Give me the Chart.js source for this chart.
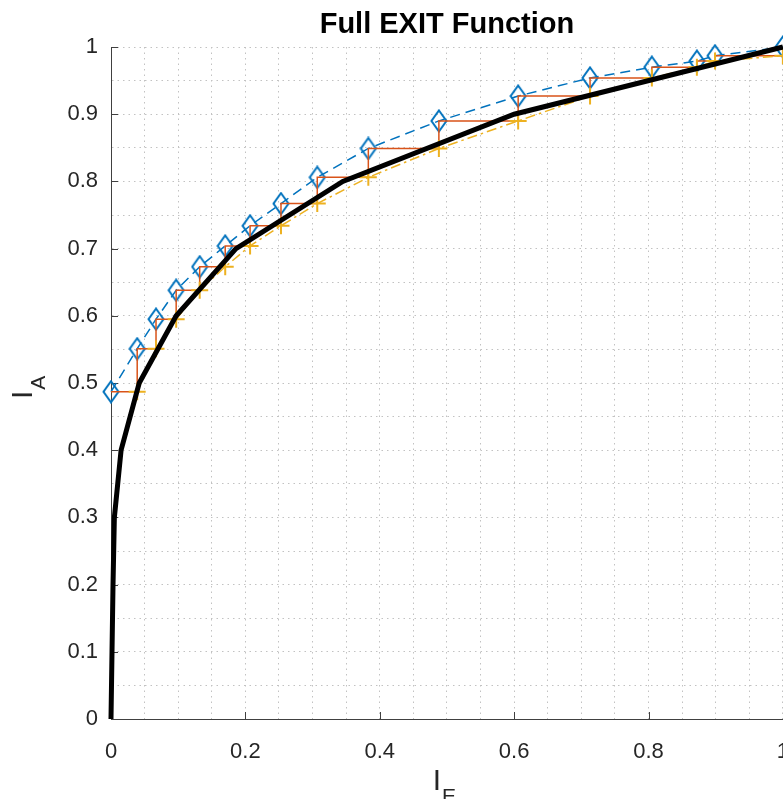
<!DOCTYPE html>
<html>
<head>
<meta charset="utf-8">
<script src="https://cdn.jsdelivr.net/npm/chart.js@4"></script>
<style>
  html, body { margin: 0; padding: 0; overflow: hidden; background: #fff; }
  canvas { display: block; }
</style>
</head>
<body>
<canvas id="exit" width="809" height="799"></canvas>
<script>
// Decoding trajectory: mutual information after each half-iteration
const ieTrajectory = [0, 0.039, 0.067, 0.097, 0.132, 0.170, 0.207, 0.253, 0.307, 0.383, 0.488, 0.606, 0.713, 0.805, 0.872, 0.899, 1.0];
const iaTrajectory = [0.487, 0.551, 0.595, 0.638, 0.673, 0.704, 0.734, 0.767, 0.806, 0.849, 0.890, 0.927, 0.954, 0.970, 0.979, 0.987, 1.0];

// Extrinsic output of the second decoder
const ieOuter = [0.039, 0.067, 0.097, 0.132, 0.170, 0.207, 0.253, 0.307, 0.383, 0.488, 0.606, 0.713, 0.805, 0.872, 0.899, 1.0];
const iaOuter = [0.487, 0.551, 0.595, 0.638, 0.673, 0.704, 0.734, 0.767, 0.806, 0.849, 0.890, 0.927, 0.954, 0.970, 0.979, 0.987];

// Full EXIT function
const ieExit = [0, 0.0015, 0.003, 0.005, 0.015, 0.042, 0.097, 0.186, 0.345, 0.600, 1.0];
const iaExit = [0, 0.1, 0.2, 0.3, 0.4, 0.5, 0.6, 0.7, 0.8, 0.9, 1.0];

const xTickLabels = ['0', '0.2', '0.4', '0.6', '0.8', '1'];
const yTickLabels = ['0', '0.1', '0.2', '0.3', '0.4', '0.5', '0.6', '0.7', '0.8', '0.9', '1'];
const titleText = 'Full EXIT Function';

const BLUE = '#0072BD', ORANGE = '#D95319', YELLOW = '#EDB120';
const TEXT = '#262626', AXIS = '#404040', GRID = '#c2c2c2';
const FONT = '"Liberation Sans", Arial, Helvetica, sans-serif';

const pts = (xs, ys) => xs.map((x, i) => ({ x, y: ys[i] }));

// staircase: trajectory point -> outer point -> next trajectory point
const stair = [];
ieTrajectory.forEach((x, i) => {
  stair.push({ x, y: iaTrajectory[i] });
  if (i < ieOuter.length) stair.push({ x: ieOuter[i], y: iaOuter[i] });
});

// tall diamond marker
function diamond() {
  const c = document.createElement('canvas');
  c.width = 18; c.height = 24;
  const g = c.getContext('2d');
  g.strokeStyle = BLUE; g.lineWidth = 2;
  g.beginPath();
  g.moveTo(9, 1.5); g.lineTo(16.5, 12); g.lineTo(9, 22.5); g.lineTo(1.5, 12); g.closePath();
  g.stroke();
  return c;
}

function labelFor(list, v) {
  const hit = list.find(s => Math.abs(Number(s) - v) < 1e-6);
  return hit === undefined ? '' : hit;
}

// inward tick marks, title over the plot area, subscripted axis titles
const axisDecor = {
  id: 'axisDecor',
  beforeDatasetsDraw(chart) {
    const { ctx, chartArea: a, scales } = chart;
    ctx.save();
    ctx.strokeStyle = AXIS; ctx.lineWidth = 1;
    ctx.beginPath();
    xTickLabels.forEach(s => {
      const px = Math.round(scales.x.getPixelForValue(Number(s))) + 0.5;
      ctx.moveTo(px, a.bottom); ctx.lineTo(px, a.bottom - 7);
    });
    yTickLabels.forEach(s => {
      const py = Math.round(scales.y.getPixelForValue(Number(s))) + 0.5;
      ctx.moveTo(a.left, py); ctx.lineTo(a.left + 7, py);
    });
    ctx.stroke();
    ctx.restore();
  },
  afterDraw(chart) {
    const { ctx, chartArea: a } = chart;
    const cx = (a.left + a.right) / 2;
    ctx.save();
    // title
    ctx.fillStyle = '#000';
    ctx.textAlign = 'center';
    ctx.textBaseline = 'alphabetic';
    ctx.font = 'bold 29px ' + FONT;
    ctx.fillText(titleText, cx, a.top - 14);

    const big = '30px ' + FONT, small = '21px ' + FONT;
    ctx.fillStyle = TEXT;
    ctx.textAlign = 'left';
    // I_E
    ctx.font = big; const wI = ctx.measureText('I').width;
    ctx.font = small; const wE = ctx.measureText('E').width;
    const sx = cx - (wI + wE) / 2 - 3;
    ctx.font = big; ctx.fillText('I', sx, a.bottom + 71);
    ctx.font = small; ctx.fillText('E', sx + wI + 1, a.bottom + 84);
    // I_A
    ctx.translate(a.left - 79, (a.top + a.bottom) / 2);
    ctx.rotate(-Math.PI / 2);
    ctx.font = big; ctx.fillText('I', -16, 0);
    ctx.font = small; ctx.fillText('A', -16 + wI + 1, 13);
    ctx.restore();
  }
};

new Chart(document.getElementById('exit'), {
  type: 'line',
  data: {
    datasets: [
      {
        data: pts(ieExit, iaExit),
        borderColor: '#000', borderWidth: 5, pointRadius: 0,
        borderJoinStyle: 'miter', clip: false, order: 0
      },
      {
        data: pts(ieOuter, iaOuter),
        borderColor: YELLOW, borderWidth: 1.5, borderDash: [10, 4, 2.5, 4],
        pointStyle: 'cross', pointRadius: 8.5, pointBorderColor: YELLOW,
        pointBorderWidth: 2, clip: false, order: 1
      },
      {
        data: stair,
        borderColor: ORANGE, borderWidth: 1.5, pointRadius: 0, clip: false, order: 2
      },
      {
        data: pts(ieTrajectory, iaTrajectory),
        borderColor: BLUE, borderWidth: 1.5, borderDash: [10, 6],
        pointStyle: diamond(), pointRadius: 10, clip: false, order: 3
      }
    ]
  },
  options: {
    responsive: false,
    animation: false,
    devicePixelRatio: 1,
    layout: { padding: { left: 0, right: 0, top: 47, bottom: 0 } },
    elements: { line: { tension: 0 } },
    plugins: {
      legend: { display: false },
      tooltip: { enabled: false },
      title: { display: false }
    },
    scales: {
      x: {
        type: 'linear', min: 0, max: 1,
        afterFit: s => { s.height = 80; },
        ticks: {
          stepSize: 0.05, autoSkip: false, maxRotation: 0, padding: 20,
          color: TEXT, font: { family: FONT, size: 22 },
          callback: v => labelFor(xTickLabels, v)
        },
        grid: { color: GRID, lineWidth: 1, drawTicks: false },
        border: { display: true, color: AXIS, width: 1, dash: [1.5, 4] }
      },
      y: {
        type: 'linear', min: 0, max: 1,
        afterFit: s => { s.width = 111; },
        ticks: {
          stepSize: 0.05, autoSkip: false, padding: 13,
          color: TEXT, font: { family: FONT, size: 22 },
          callback: v => labelFor(yTickLabels, v)
        },
        grid: { color: GRID, lineWidth: 1, drawTicks: false },
        border: { display: true, color: AXIS, width: 1, dash: [1.5, 4] }
      }
    }
  },
  plugins: [axisDecor]
});
</script>
</body>
</html>
